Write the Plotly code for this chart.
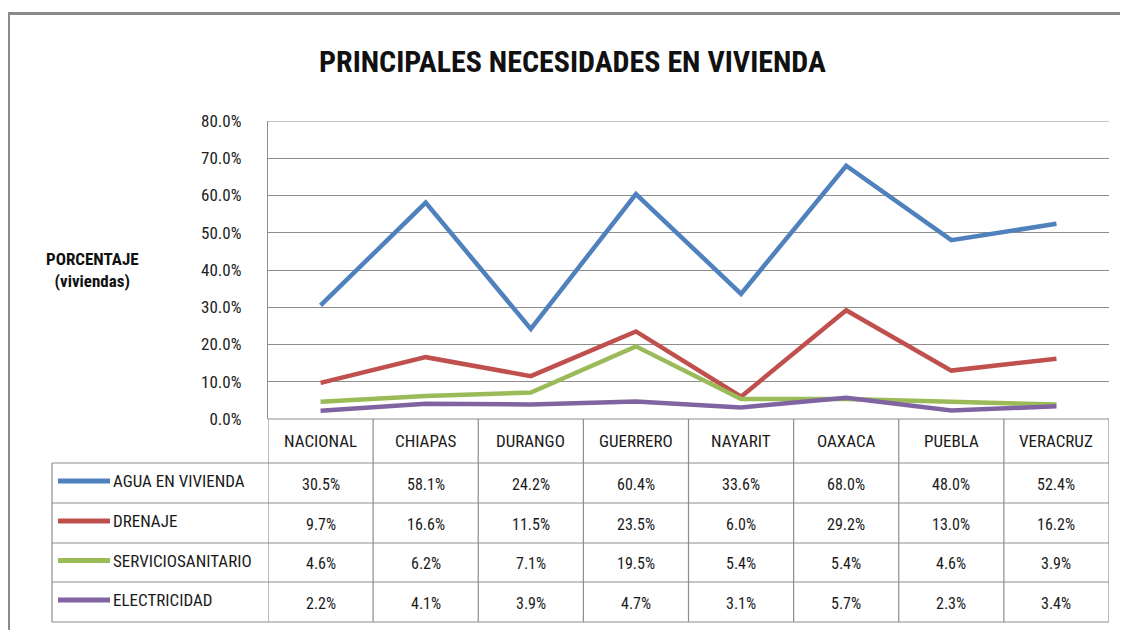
import plotly.graph_objects as go

categories = ["NACIONAL", "CHIAPAS", "DURANGO", "GUERRERO", "NAYARIT", "OAXACA", "PUEBLA", "VERACRUZ"]
series_names = ["AGUA EN VIVIENDA", "DRENAJE", "SERVICIOSANITARIO", "ELECTRICIDAD"]
agua = [30.5, 58.1, 24.2, 60.4, 33.6, 68.0, 48.0, 52.4]
drenaje = [9.7, 16.6, 11.5, 23.5, 6.0, 29.2, 13.0, 16.2]
sanitario = [4.6, 6.2, 7.1, 19.5, 5.4, 5.4, 4.6, 3.9]
electricidad = [2.2, 4.1, 3.9, 4.7, 3.1, 5.7, 2.3, 3.4]
colors = ["#4F81BD", "#C0504D", "#9BBB59", "#8064A2"]
tick_vals = [0, 0.1, 0.2, 0.3, 0.4, 0.5, 0.6, 0.7, 0.8]

series = [agua, drenaje, sanitario, electricidad]

# page body margin offsets the figure by 8px; work in target-page pixels
OFF = 8
W, H = 1128 - OFF, 630 - OFF
L, R, T, B = 268, 1109, 121, 419
FONT = "Liberation Sans Narrow, Arial Narrow, Roboto Condensed, Liberation Sans, sans-serif"
GRID = "#8E8E8E"


def px(x):
    return (x - L) / (R - L)


def py(y):
    return (B - y) / (B - T)


fig = go.Figure()
for name, vals, c in zip(series_names, series, colors):
    fig.add_trace(go.Scatter(
        x=categories, y=[v / 100 for v in vals], mode="lines", name=name,
        line=dict(color=c, width=4.5), showlegend=False, cliponaxis=False,
    ))

shapes = []
annotations = []

# outer frame
shapes.append(dict(type="rect", xref="paper", yref="paper",
                   x0=px(8.5), x1=px(1150), y0=py(13.5), y1=py(660),
                   line=dict(color="#8A8A8A", width=3), layer="below"))

n = len(categories)
# top gridline of the plot area (max of the value axis)
shapes.append(dict(type="line", xref="x", yref="y", x0=-0.5, x1=n - 0.5,
                   y0=tick_vals[-1], y1=tick_vals[-1], line=dict(color=GRID, width=1.2), layer="below"))

# table geometry
row_edges = [419, 463, 503, 543, 582, 622]
shapes.append(dict(type="line", xref="x", yref="paper", x0=-0.5, x1=n - 0.5,
                   y0=py(row_edges[0]), y1=py(row_edges[0]), line=dict(color=GRID, width=1.2)))
for ye in row_edges[1:]:
    shapes.append(dict(type="line", xref="paper", yref="paper", x0=px(52), x1=1,
                       y0=py(ye), y1=py(ye), line=dict(color=GRID, width=1.2)))
shapes.append(dict(type="line", xref="paper", yref="paper", x0=px(52), x1=px(52),
                   y0=py(row_edges[1]), y1=py(row_edges[-1]), line=dict(color=GRID, width=1.2)))
for i in range(n + 1):
    shapes.append(dict(type="line", xref="x", yref="paper", x0=i - 0.5, x1=i - 0.5,
                       y0=py(row_edges[0]), y1=py(row_edges[-1]), line=dict(color=GRID, width=1.2)))

TXT = "#1a1a1a"
for i, cat in enumerate(categories):
    annotations.append(dict(x=cat, xref="x", yref="paper",
                            y=py((row_edges[0] + row_edges[1]) / 2), text=cat, showarrow=False,
                            font=dict(family=FONT, size=17, color=TXT), xanchor="center", yanchor="middle"))

for r, (name, vals, c) in enumerate(zip(series_names, series, colors)):
    ymid = (row_edges[r + 1] + row_edges[r + 2]) / 2
    yl = py(ymid - 2)
    shapes.append(dict(type="line", xref="paper", yref="paper", x0=px(58), x1=px(110),
                       y0=yl, y1=yl, line=dict(color=c, width=5)))
    annotations.append(dict(x=px(111), y=yl, xref="paper", yref="paper", text=name,
                            showarrow=False, xanchor="left", yanchor="middle",
                            font=dict(family=FONT, size=17, color=TXT)))
    for i, v in enumerate(vals):
        annotations.append(dict(x=categories[i], xref="x", y=py(ymid + 1), yref="paper", text=f"{v:.1f}%",
                                showarrow=False, xanchor="center", yanchor="middle",
                                font=dict(family=FONT, size=16, color=TXT)))

annotations.append(dict(x=px(572), y=py(62), xref="paper", yref="paper",
                        text="<b>PRINCIPALES NECESIDADES EN VIVIENDA</b>", showarrow=False,
                        xanchor="center", yanchor="middle",
                        font=dict(family=FONT, size=30, color="#111")))
annotations.append(dict(x=px(92), y=py(270), xref="paper", yref="paper",
                        text="<b>PORCENTAJE</b><br><b>(viviendas)</b>", showarrow=False,
                        xanchor="center", yanchor="middle", align="center",
                        font=dict(family=FONT, size=17, color="#111")))

fig.update_layout(
    width=W, height=H,
    margin=dict(l=L - OFF, r=W - (R - OFF), t=T - OFF, b=H - (B - OFF), pad=0),
    paper_bgcolor="white", plot_bgcolor="white",
    shapes=shapes, annotations=annotations,
    xaxis=dict(type="category", range=[-0.5, n - 0.5], showticklabels=False,
               showgrid=False, zeroline=False, showline=False, fixedrange=True),
    yaxis=dict(range=[0, 0.8], tickvals=tick_vals, tickformat=".1%",
               showgrid=True, gridcolor=GRID, gridwidth=1.2,
               showline=True, linecolor=GRID, linewidth=1.2,
               zeroline=False, ticks="", ticklabelstandoff=22,
               tickfont=dict(family=FONT, size=17, color="#222"), fixedrange=True),
)

fig.write_html("out.html")
